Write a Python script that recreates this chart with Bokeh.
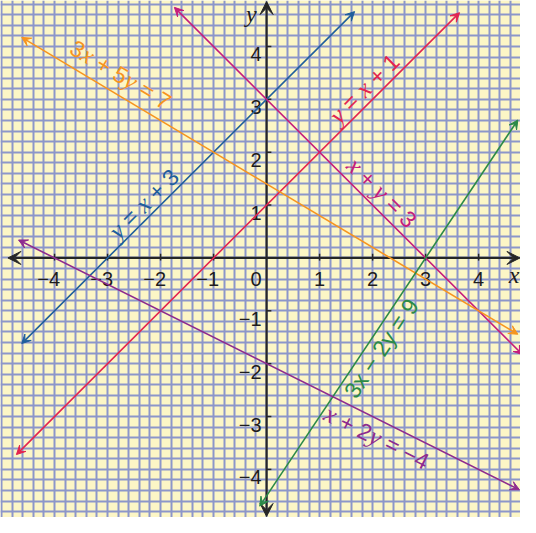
import math
from bokeh.plotting import figure
from bokeh.models import Arrow, VeeHead, FixedTicker, ColumnDataSource
from bokeh.core.properties import value
from bokeh.embed import file_html
from bokeh.resources import INLINE

# ---- data: straight lines a*x + b*y = c ----
line_a = [-1, -1, 1, 3, 3, 1]
line_b = [1, 1, 1, 5, -2, 2]
line_c = [3, 1, 3, 7, 9, -4]
line_x_start = [-4.62, -4.72, -1.74, -4.62, -0.13, -4.68]
line_x_end = [1.66, 3.64, 4.83, 4.74, 4.74, 4.77]
line_colors = ["#1f5e9c", "#e3244f", "#c41c7d", "#f7941e", "#2b8a47", "#8e2b8f"]

# label anchors (centre of each equation text) and texts (token, style)
label_x = [-2.32, 1.84, 2.18, -2.75, 2.16, 2.08]
label_y = [1.03, 3.21, 1.24, 3.47, -1.71, -3.39]
label_tokens = [
    [("y", "i"), (" = ", "s"), ("x", "i"), (" + 3", "s")],
    [("y", "i"), (" = ", "s"), ("x", "i"), (" + 1", "s")],
    [("x", "i"), (" + ", "s"), ("y", "i"), (" = 3", "s")],
    [("3", "s"), ("x", "i"), (" + 5", "s"), ("y", "i"), (" = 7", "s")],
    [("3x \u2212 2y = 9", "s")],
    [("x", "i"), (" + 2", "s"), ("y", "i"), (" = \u22124", "s")],
]

# axis ticks
x_ticks = [-4, -3, -2, -1, 1, 2, 3, 4]
x_tick_labels = ["\u22124", "\u22123", "\u22122", "\u22121", "1", "2", "3", "4"]
y_ticks = [-4, -3, -2, -1, 1, 2, 3, 4]
y_tick_labels = ["\u22124", "\u22123", "\u22122", "\u22121", "1", "2", "3", "4"]
axis_x_extent = [-4.88, 4.78]
axis_y_extent = [-4.89, 4.85]
grid_ticks = [round(i * 0.2, 1) for i in range(-25, 26)]

AX = "#262626"
SANS = "Liberation Sans"
SERIF = "Liberation Serif"

p = figure(width=520, height=517, x_range=(-5.02, 4.79), y_range=(-4.91, 4.87),
           output_backend="svg", toolbar_location=None,
           x_axis_location=None, y_axis_location=None, min_border=0)
p.background_fill_color = "#fcf6c6"
p.border_fill_color = "#fdf9d4"
p.outline_line_color = None
p.xgrid.ticker = FixedTicker(ticks=grid_ticks)
p.ygrid.ticker = FixedTicker(ticks=grid_ticks)
for g in (p.xgrid, p.ygrid):
    g.grid_line_color = "#8c96ca"
    g.grid_line_width = 2


def vee(color, size):
    return VeeHead(size=size, fill_color=color, line_color=color, line_width=1)


# axes
p.add_layout(Arrow(x_start=axis_x_extent[0], y_start=0, x_end=axis_x_extent[1], y_end=0,
                   line_color=AX, line_width=2.2, start=vee(AX, 13), end=vee(AX, 13)))
p.add_layout(Arrow(x_start=0, y_start=axis_y_extent[0], x_end=0, y_end=axis_y_extent[1],
                   line_color=AX, line_width=2.2, start=vee(AX, 13), end=vee(AX, 13)))
p.segment(x0=x_ticks, y0=[-0.05] * len(x_ticks), x1=x_ticks, y1=[0.08] * len(x_ticks),
          line_color=AX, line_width=1.5)
p.segment(x0=[0] * len(y_ticks), y0=y_ticks, x1=[0.09] * len(y_ticks), y1=y_ticks,
          line_color=AX, line_width=1.5)

# tick labels
TK = "#1e1c1c"
p.text(x=x_ticks, y=[0] * len(x_ticks), text=x_tick_labels, text_align="right",
       text_baseline="alphabetic", x_offset=5.5, y_offset=21,
       text_font=value(SANS), text_font_size="20px", text_color=TK)
p.text(x=[0] * len(y_ticks), y=y_ticks, text=y_tick_labels, text_align="right",
       text_baseline="alphabetic", x_offset=-5, y_offset=8,
       text_font=value(SANS), text_font_size="20px", text_color=TK)
p.text(x=[0], y=[0], text=["0"], text_align="right", text_baseline="alphabetic",
       x_offset=-5, y_offset=21, text_font=value(SANS), text_font_size="20px",
       text_color=TK)
p.text(x=[4.77], y=[0], text=["x"], text_align="right", text_baseline="alphabetic",
       y_offset=17, text_font=value(SERIF), text_font_style="italic",
       text_font_size="24px", text_color=TK)
p.text(x=[-0.39], y=[4.62], text=["y"], text_align="left", text_baseline="alphabetic",
       text_font=value(SERIF), text_font_style="italic",
       text_font_size="24px", text_color=TK)

# coloured lines
for a, b, c, xs, xe, col in zip(line_a, line_b, line_c, line_x_start, line_x_end, line_colors):
    ys = (c - a * xs) / b
    ye = (c - a * xe) / b
    p.add_layout(Arrow(x_start=xs, y_start=ys, x_end=xe, y_end=ye, line_color=col,
                       line_width=1.6, start=vee(col, 9), end=vee(col, 9)))

# equation labels, laid out run by run along each line (spaces handled as advances)
FS = 23
FI = 25
sans_w = {" ": .278, "=": .584, "+": .584, "\u2212": .584, "x": .5, "y": .5}
ital_w = {"x": .444, "y": .444, " ": .25}


def adv(ch, st):
    if st == "s":
        return sans_w.get(ch, .556) * FS
    return ital_w.get(ch, .444) * FI


cols = {"s": dict(x=[], y=[], t=[], ang=[], xo=[], yo=[], c=[]),
        "i": dict(x=[], y=[], t=[], ang=[], xo=[], yo=[], c=[])}
for a, b, lx, ly, toks, col in zip(line_a, line_b, label_x, label_y, label_tokens, line_colors):
    th = math.atan(-a / b)
    chars = [(ch, st) for t, st in toks for ch in t]
    total = sum(adv(ch, st) for ch, st in chars)
    s = -total / 2
    runs = []  # [text, style, start, end]
    for ch, st in chars:
        if ch == " ":
            s += adv(ch, st)
            continue
        if runs and runs[-1][1] == st and runs[-1][3] == s:
            runs[-1][0] += ch
        else:
            runs.append([ch, st, s, s])
        s += adv(ch, st)
        runs[-1][3] = s
    for t, st, s0, _ in runs:
        d = cols[st]
        d["x"].append(lx); d["y"].append(ly); d["t"].append(t); d["ang"].append(th)
        d["xo"].append(s0 * math.cos(th)); d["yo"].append(-s0 * math.sin(th)); d["c"].append(col)

p.text(x="x", y="y", text="t", angle="ang", x_offset="xo", y_offset="yo", text_color="c",
       source=ColumnDataSource(cols["s"]), text_align="left", text_baseline="middle",
       text_font=value(SANS), text_font_size=f"{FS}px")
p.text(x="x", y="y", text="t", angle="ang", x_offset="xo", y_offset="yo", text_color="c",
       source=ColumnDataSource(cols["i"]), text_align="left", text_baseline="middle",
       text_font=value(SERIF), text_font_style="italic", text_font_size=f"{FI}px")

open("out.html", "w").write(file_html(p, INLINE))
